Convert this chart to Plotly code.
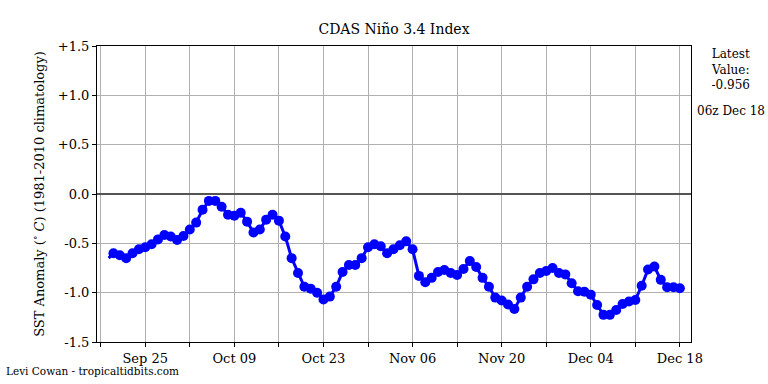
import pandas as pd
import plotly.graph_objects as go

dates = ["2023-09-19 06:00"] + [d.strftime("%Y-%m-%d") for d in pd.date_range("2023-09-20", "2023-12-18", freq="D")]

values = [
    -0.65, -0.60, -0.62, -0.65, -0.60, -0.56, -0.54, -0.51, -0.46, -0.415,
    -0.43, -0.465, -0.425, -0.36, -0.29, -0.16, -0.07, -0.07, -0.13, -0.21,
    -0.22, -0.19, -0.28, -0.39, -0.36, -0.26, -0.21, -0.27, -0.43, -0.65,
    -0.80, -0.94, -0.96, -1.00, -1.07, -1.04, -0.94, -0.79, -0.72, -0.72,
    -0.65, -0.54, -0.51, -0.53, -0.60, -0.56, -0.52, -0.48, -0.56, -0.83,
    -0.895, -0.85, -0.79, -0.77, -0.80, -0.82, -0.76, -0.68, -0.74, -0.85,
    -0.94, -1.05, -1.08, -1.12, -1.165, -1.05, -0.94, -0.865, -0.80, -0.78,
    -0.75, -0.80, -0.815, -0.905, -0.985, -0.99, -1.02, -1.125, -1.225, -1.225,
    -1.175, -1.115, -1.09, -1.075, -0.93, -0.765, -0.735, -0.87, -0.945, -0.945,
    -0.956,
]

marker_sizes = [0] + [10] * (len(values) - 1)

major_ticks = ["2023-09-25", "2023-10-09", "2023-10-23", "2023-11-06",
               "2023-11-20", "2023-12-04", "2023-12-18"]
major_labels = ["Sep 25", "Oct 09", "Oct 23", "Nov 06", "Nov 20", "Dec 04", "Dec 18"]
minor_ticks = ["2023-09-18", "2023-10-02", "2023-10-16", "2023-10-30",
               "2023-11-13", "2023-11-27", "2023-12-11"]

y_ticks = [1.5, 1.0, 0.5, 0.0, -0.5, -1.0, -1.5]
y_labels = ["+1.5", "+1.0", "+0.5", "0.0", "-0.5", "-1.0", "-1.5"]

title_text = "CDAS Niño 3.4 Index"
latest_text = "Latest<br>Value:<br>-0.956"
time_text = "06z Dec 18"
credit_text = "Levi Cowan - tropicaltidbits.com"

FONT = "DejaVu Serif, Liberation Serif, serif"

fig = go.Figure()
fig.add_trace(go.Scatter(
    x=dates, y=values, mode="lines+markers",
    line=dict(color="#0000ff", width=3),
    marker=dict(color="#0000ff", size=marker_sizes, opacity=1,
                line=dict(width=0, color="#0000ff")),
    showlegend=False, hoverinfo="skip",
))

fig.update_layout(
    width=768, height=384,
    margin=dict(l=97, r=77, t=46, b=42, autoexpand=False),
    paper_bgcolor="white", plot_bgcolor="white",
    font=dict(family=FONT, size=13, color="black"),
    title=dict(text=title_text, x=0.5, xref="paper", xanchor="center",
               y=1, yref="container", yanchor="top", pad=dict(t=24),
               font=dict(family=FONT, size=14, color="black")),
    xaxis=dict(
        type="date",
        range=["2023-09-17 10:00", "2023-12-19 18:00"],
        tickmode="array", tickvals=major_ticks, ticktext=major_labels,
        ticks="outside", ticklen=4, tickwidth=1, tickcolor="black",
        showgrid=True, gridcolor="#b0b0b0", gridwidth=1,
        minor=dict(tickmode="array", tickvals=minor_ticks, ticks="outside",
                   ticklen=4, tickcolor="black", showgrid=True,
                   gridcolor="#b0b0b0", gridwidth=1),
        showline=True, linecolor="black", linewidth=1, mirror=True,
        zeroline=False, automargin=False,
        tickfont=dict(family=FONT, size=13),
    ),
    yaxis=dict(
        range=[-1.5, 1.5],
        tickmode="array", tickvals=y_ticks, ticktext=y_labels,
        ticks="outside", ticklen=4, tickcolor="black",
        showgrid=True, gridcolor="#b0b0b0", gridwidth=1,
        showline=True, linecolor="black", linewidth=1, mirror=True,
        zeroline=True, zerolinecolor="#555555", zerolinewidth=1.5,
        automargin=False,
        tickfont=dict(family=FONT, size=13),
        title=dict(text="SST Anomaly (<sup>∘</sup> <i>C</i>) (1981-2010 climatology)",
                   font=dict(family=FONT, size=13), standoff=10),
    ),
)

fig.add_annotation(text=latest_text, xref="paper", yref="paper",
                   x=1.067, y=1.005, xanchor="center", yanchor="top",
                   showarrow=False, align="center",
                   font=dict(family=FONT, size=12))
fig.add_annotation(text=time_text, xref="paper", yref="paper",
                   x=1.067, y=0.78, xanchor="center", yanchor="middle",
                   showarrow=False, font=dict(family=FONT, size=12))
fig.add_annotation(text=credit_text, xref="paper", yref="paper",
                   x=-0.157, y=-0.097, xanchor="left", yanchor="middle",
                   showarrow=False, font=dict(family=FONT, size=10.5))

fig.write_html("out.html", config={"displayModeBar": False},
               post_script="document.body.style.margin='0';document.body.style.overflow='hidden';")
